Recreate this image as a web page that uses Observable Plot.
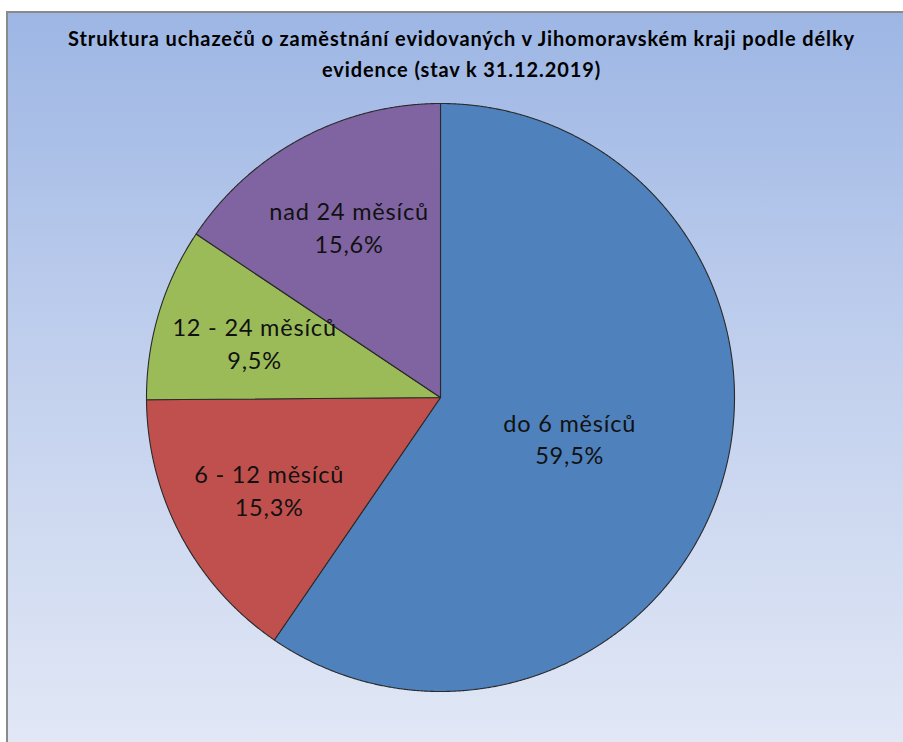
<!DOCTYPE html>
<html>
<head>
<meta charset="utf-8">
<script src="https://cdn.jsdelivr.net/npm/d3@7"></script>
<script src="https://cdn.jsdelivr.net/npm/@observablehq/plot@0.6"></script>
<style>
  html, body { margin: 0; padding: 0; background: #fff; width: 903px; height: 742px; overflow: hidden; }
  #frame {
    position: absolute; left: 6px; top: 11px; width: 897px; height: 731px;
    border-left: 2px solid #8a8a8a; border-top: 2px solid #8a8a8a;
    background: linear-gradient(to bottom, #9db6e4 0%, #c3d1ee 50%, #e1e7f5 100%);
    box-sizing: border-box;
  }
  #title {
    width: 895px; height: 82px; box-sizing: border-box;
    padding: 10px 0 0 12px;
    font-family: Lato, "Open Sans", sans-serif; font-weight: bold; font-size: 20px;
    letter-spacing: 0.9px;
    line-height: 31px; text-align: center; color: #000;
  }
  #chart svg { display: block; background: transparent; }
  #chart svg text { letter-spacing: 0.8px; }
</style>
</head>
<body>
<div id="frame">
  <div id="title">Struktura uchazečů o zaměstnání evidovaných v Jihomoravském kraji podle délky<br>evidence (stav k 31.12.2019)</div>
  <div id="chart"></div>
</div>
<script>
// ---- data ----
const labels = ["do 6 měsíců", "6 - 12 měsíců", "12 - 24 měsíců", "nad 24 měsíců"];
const shares = [59.5, 15.3, 9.5, 15.6];
const colors = ["#4f81bd", "#c0504d", "#9bbb59", "#8064a2"];

// ---- layout ----
const W = 895, H = 647;
const cx = 432, cy = 302, R = 294;

const rows = labels.map((label, i) => ({label, value: shares[i]}));
const arcs = d3.pie().sort(null).value(d => d.value)(rows);

// slice outlines in unit coordinates (y up), angle clockwise from 12 o'clock
const pts = [];
arcs.forEach(a => {
  const label = a.data.label;
  pts.push({label, x: 0, y: 0});
  const n = Math.max(2, Math.ceil((a.endAngle - a.startAngle) / 0.004));
  for (let k = 0; k <= n; k++) {
    const t = a.startAngle + (a.endAngle - a.startAngle) * k / n;
    pts.push({label, x: Math.sin(t), y: Math.cos(t)});
  }
});

const fmt = v => v.toFixed(1).replace(".", ",") + "%";
const labelPts = arcs.map(a => {
  const m = (a.startAngle + a.endAngle) / 2;
  const r = a.data.value > 50 ? 0.46 : 0.66;
  return {x: r * Math.sin(m), y: r * Math.cos(m), text: a.data.label + "\n" + fmt(a.data.value)};
});

const chart = Plot.plot({
  width: W, height: H,
  margin: 0,
  x: {domain: [-cx / R, (W - cx) / R], range: [0, W], axis: null},
  y: {domain: [-(H - cy) / R, cy / R], range: [H, 0], axis: null},
  color: {domain: labels, range: colors},
  style: {background: "transparent"},
  marks: [
    Plot.line(pts, {x: "x", y: "y", z: "label", fill: "label", stroke: "#2a2a2a", strokeWidth: 1.1, curve: "linear-closed", strokeLinejoin: "round"}),
    Plot.text(labelPts, {x: "x", y: "y", text: "text", fontSize: 23.5, lineHeight: 1.4, fill: "#111", fontFamily: "Lato", lineAnchor: "middle"})
  ]
});
document.getElementById("chart").appendChild(chart);
</script>
</body>
</html>
